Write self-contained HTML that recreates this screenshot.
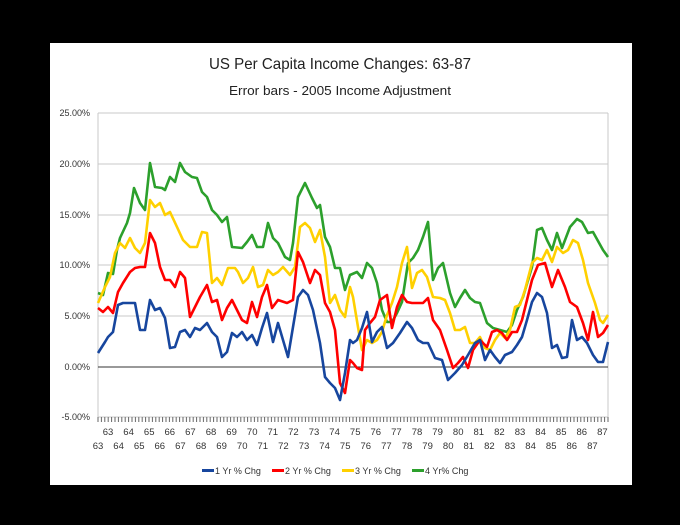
<!DOCTYPE html>
<html><head><meta charset="utf-8"><style>
body{margin:0;background:#000;}
svg{display:block;font-family:"Liberation Sans",sans-serif;}
</style></head><body>
<svg width="680" height="525" viewBox="0 0 680 525" xmlns="http://www.w3.org/2000/svg">
<defs><pattern id="tk" x="97.5" y="417" width="3.4" height="5" patternUnits="userSpaceOnUse"><rect x="0" y="0" width="1" height="5" fill="#666"/></pattern></defs>
<rect x="0" y="0" width="680" height="525" fill="#000"/>
<rect x="50" y="43" width="582" height="442" fill="#fff"/>
<text x="340" y="69" font-size="16" text-anchor="middle" fill="#222" textLength="262" lengthAdjust="spacingAndGlyphs">US Per Capita Income Changes: 63-87</text>
<text x="340" y="95" font-size="13" text-anchor="middle" fill="#222" textLength="222" lengthAdjust="spacingAndGlyphs">Error bars - 2005 Income Adjustment</text>
<g stroke="#c8c8c8" stroke-width="1">
<line x1="98" y1="113" x2="608" y2="113"/>
<line x1="98" y1="164" x2="608" y2="164"/>
<line x1="98" y1="215" x2="608" y2="215"/>
<line x1="98" y1="265" x2="608" y2="265"/>
<line x1="98" y1="316" x2="608" y2="316"/>
<line x1="98" y1="417" x2="608" y2="417"/>
<line x1="98" y1="113" x2="98" y2="417"/>
<line x1="608" y1="113" x2="608" y2="417"/>
</g>
<line x1="98" y1="367" x2="608" y2="367" stroke="#333" stroke-width="1"/>
<g font-size="9" fill="#333" text-anchor="end">
<text x="90" y="116">25.00%</text><text x="90" y="167">20.00%</text><text x="90" y="218">15.00%</text>
<text x="90" y="268">10.00%</text><text x="90" y="319">5.00%</text><text x="90" y="370">0.00%</text>
<text x="90" y="420">-5.00%</text>
</g>
<rect x="97.5" y="417" width="512" height="5" fill="url(#tk)"/>
<g font-size="9.5" fill="#333" text-anchor="middle">
<text x="108" y="435">63</text><text x="128.6" y="435">64</text><text x="149.2" y="435">65</text><text x="169.8" y="435">66</text><text x="190.4" y="435">67</text><text x="211" y="435">68</text><text x="231.6" y="435">69</text><text x="252.2" y="435">70</text><text x="272.8" y="435">71</text><text x="293.4" y="435">72</text><text x="314" y="435">73</text><text x="334.6" y="435">74</text><text x="355.2" y="435">75</text><text x="375.8" y="435">76</text><text x="396.4" y="435">77</text><text x="417" y="435">78</text><text x="437.6" y="435">79</text><text x="458.2" y="435">80</text><text x="478.8" y="435">81</text><text x="499.4" y="435">82</text><text x="520" y="435">83</text><text x="540.6" y="435">84</text><text x="561.2" y="435">85</text><text x="581.8" y="435">86</text><text x="602.4" y="435">87</text>
<text x="98" y="449">63</text><text x="118.6" y="449">64</text><text x="139.2" y="449">65</text><text x="159.8" y="449">66</text><text x="180.4" y="449">67</text><text x="201" y="449">68</text><text x="221.6" y="449">69</text><text x="242.2" y="449">70</text><text x="262.8" y="449">71</text><text x="283.4" y="449">72</text><text x="304" y="449">73</text><text x="324.6" y="449">74</text><text x="345.2" y="449">75</text><text x="365.8" y="449">76</text><text x="386.4" y="449">77</text><text x="407" y="449">78</text><text x="427.6" y="449">79</text><text x="448.2" y="449">80</text><text x="468.8" y="449">81</text><text x="489.4" y="449">82</text><text x="510" y="449">83</text><text x="530.6" y="449">84</text><text x="551.2" y="449">85</text><text x="571.8" y="449">86</text><text x="592.4" y="449">87</text>
</g>
<g fill="none" stroke-width="2.6" stroke-linejoin="round">
<polyline stroke="#2ca02c" points="98,293 103,295 108,273 113,274 117,250 120,238 127,223 130,213 134,188 140,203 145,210 150,163 155,187 162,188 165,190 170,177 175,182 180,163 185,172 192,177 197,178 202,192 207,197 212,210 217,215 222,222 227,217 232,247 242,248 247,242 252,235 257,247 263,247 268,223 273,238 278,243 285,257 290,260 293,243 298,197 305,183 312,198 317,208 320,205 325,237 330,247 335,268 340,268 345,290 350,275 357,272 362,278 367,263 372,268 377,283 382,310 387,322 392,322 397,313 402,302 408,263 413,258 418,250 423,237 428,222 433,280 438,268 443,263 450,293 455,307 460,298 465,290 470,298 475,302 480,303 487,323 493,328 500,330 507,332 512,325 517,310 523,297 532,267 537,230 542,228 547,240 552,250 557,233 562,248 570,227 577,219 582,222 588,233 593,232 603,250 608,257"/>
<polyline stroke="#ffd000" points="98,303 105,287 110,277 115,253 120,243 125,248 130,238 135,248 140,253 145,243 150,200 155,207 160,203 165,215 170,212 177,227 183,240 190,247 197,247 202,232 207,233 212,283 217,278 222,285 228,268 235,268 238,272 243,283 248,278 253,267 258,287 263,285 268,270 273,275 278,272 283,267 290,275 295,267 300,227 305,223 310,228 315,242 320,230 325,257 330,303 335,295 340,310 345,317 350,287 353,297 358,327 362,350 367,340 372,343 377,340 382,332 387,315 392,303 397,287 402,263 407,247 412,288 417,273 422,270 427,277 433,297 440,298 445,300 450,313 455,330 460,330 465,327 470,343 475,343 480,337 485,348 490,350 495,340 500,333 505,338 510,330 515,307 520,305 525,290 532,263 537,258 542,260 547,250 552,262 557,247 563,253 568,250 573,240 578,243 583,260 588,283 595,303 600,320 603,323 608,315"/>
<polyline stroke="#ff0000" points="98,308 103,312 108,307 113,313 118,292 123,283 130,272 135,268 140,267 145,267 150,233 155,243 160,267 165,280 170,280 175,287 180,272 185,278 190,317 195,307 200,297 207,285 212,302 217,300 222,320 227,308 232,300 237,310 242,320 247,323 252,302 257,317 262,297 267,285 272,308 278,300 287,303 293,300 298,252 303,262 310,283 315,270 320,275 325,303 330,312 335,330 340,383 345,393 350,360 353,363 357,368 362,370 365,330 370,323 375,317 380,300 387,295 392,328 397,307 402,295 407,302 412,303 417,303 423,303 428,298 433,320 440,330 447,350 453,368 458,363 463,357 468,368 473,350 480,340 487,347 492,332 497,330 502,333 507,340 512,332 517,332 522,320 527,300 532,280 538,265 545,263 552,287 558,270 565,287 570,302 577,307 583,323 588,340 593,312 598,337 603,333 608,325"/>
<polyline stroke="#17469e" points="98,353 105,342 108,337 113,332 118,305 123,303 132,303 135,303 140,330 145,330 150,300 155,310 160,308 165,318 170,348 175,347 180,332 185,330 190,337 195,328 200,330 207,323 212,332 217,337 222,357 227,352 232,333 237,337 242,332 247,340 252,335 257,345 262,328 267,313 273,342 278,323 283,340 288,357 293,327 298,297 303,290 308,295 313,310 320,343 325,377 330,383 335,388 340,400 345,373 350,340 353,343 357,340 362,328 367,312 372,342 377,332 382,327 387,348 393,343 400,333 407,322 412,328 418,340 423,343 428,343 435,358 442,360 448,380 455,373 462,365 468,355 475,343 480,340 485,360 490,350 495,357 500,363 505,355 512,352 517,345 522,337 527,320 532,302 537,293 542,297 547,313 552,348 557,345 562,358 567,357 572,320 577,340 582,337 587,343 593,355 598,362 603,362 608,342"/>
</g>
<g font-size="9" fill="#333">
<rect x="202" y="469" width="12" height="3" fill="#17469e"/><text x="215" y="474">1 Yr % Chg</text>
<rect x="272" y="469" width="12" height="3" fill="#ff0000"/><text x="285" y="474">2 Yr % Chg</text>
<rect x="342" y="469" width="12" height="3" fill="#ffd000"/><text x="355" y="474">3 Yr % Chg</text>
<rect x="412" y="469" width="12" height="3" fill="#2ca02c"/><text x="425" y="474">4 Yr% Chg</text>
</g>
</svg>
</body></html>
